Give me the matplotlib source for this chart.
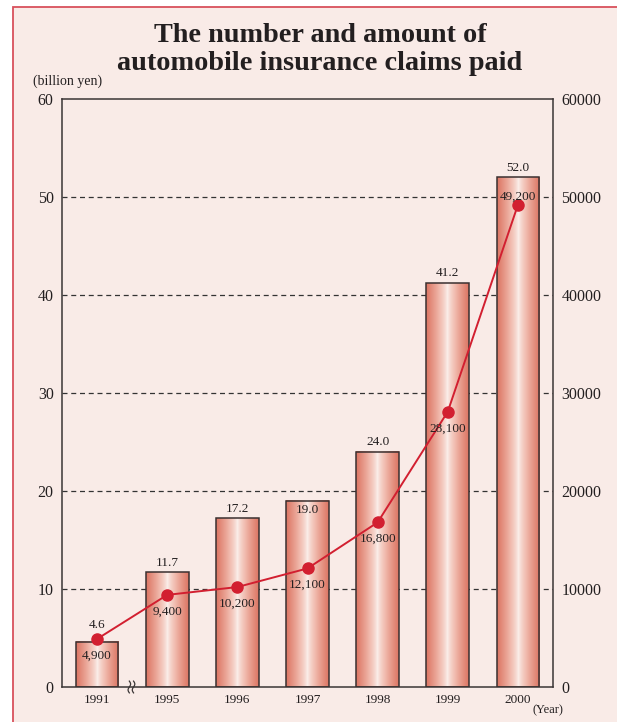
import matplotlib
matplotlib.use("Agg")
import matplotlib.pyplot as plt
import numpy as np
from matplotlib.colors import LinearSegmentedColormap
from matplotlib.patches import Rectangle

years = ["1991", "1995", "1996", "1997", "1998", "1999", "2000"]
amount = [4.6, 11.7, 17.2, 19.0, 24.0, 41.2, 52.0]          # billion yen
amount_labels = ["4.6", "11.7", "17.2", "19.0", "24.0", "41.2", "52.0"]
claims = [4900, 9400, 10200, 12100, 16800, 28100, 49200]    # number
claims_labels = ["4,900", "9,400", "10,200", "12,100", "16,800", "28,100", "49,200"]
left_ticks = [0, 10, 20, 30, 40, 50, 60]
right_ticks = [0, 10000, 20000, 30000, 40000, 50000, 60000]

BG = "#F9EBE7"
TXT = "#231F20"
RED = "#D21F30"
SERIF = ["Liberation Serif", "DejaVu Serif"]
plt.rcParams["font.family"] = SERIF

fig = plt.figure(figsize=(6.17, 7.22), dpi=100, facecolor="white")
# background panel with red border
fig.patches.append(Rectangle((13/617, -0.01), 1.0, 1 - 7/722 + 0.01, transform=fig.transFigure,
                             facecolor=BG, edgecolor="#D8505C", linewidth=1.3, zorder=-10))

ax = fig.add_axes([62/617, 1 - 687/722, (553-62)/617, (687-99)/722])
ax.set_facecolor("none")
x = np.arange(len(years))
ax.set_xlim(-0.5, len(years) - 0.5)
ax.set_ylim(0, 60)

cmap = LinearSegmentedColormap.from_list("bar", ["#FBF0EC", "#F0B8AB", "#DC7563"])
grad = (np.abs(np.linspace(-1, 1, 256)) ** 0.7).reshape(1, -1)
w = 0.61
for xi, v in zip(x, amount):
    ax.imshow(grad, cmap=cmap, aspect="auto", extent=(xi - w/2, xi + w/2, 0, v),
              zorder=2, interpolation="bilinear")
    ax.add_patch(Rectangle((xi - w/2, 0), w, v, facecolor="none", edgecolor="#3A3030",
                           linewidth=1.1, zorder=3))
for i, (xi, v, lab) in enumerate(zip(x, amount, amount_labels)):
    if i == 0:
        off = 1.75
    elif i == 3:
        off = -0.95
    else:
        off = 1.0
    ax.text(xi, v + off, lab, ha="center", va="center", fontsize=9.5, color=TXT, zorder=6)

for yv in [10, 20, 30, 40, 50]:
    ax.axhline(yv, color="#333333", linestyle=(0, (4, 3)), linewidth=0.9, zorder=1)

ax.set_xticks(x)
ax.set_xticklabels(years, fontsize=9.5, color=TXT)
ax.set_yticks(left_ticks)
ax.set_yticklabels([str(t) for t in left_ticks], fontsize=11.5, color=TXT)
ax.tick_params(length=0, pad=6)
ax.tick_params(axis="x", pad=5)
for s in ax.spines.values():
    s.set_color("#3A3535")
    s.set_linewidth(1.1)

ax2 = ax.twinx()
ax2.set_ylim(0, 60000)
ax2.set_yticks(right_ticks)
ax2.set_yticklabels([str(t) for t in right_ticks], fontsize=11.5, color=TXT)
ax2.tick_params(length=0, pad=6)
for s in ax2.spines.values():
    s.set_visible(False)
ax2.plot(x, claims, color=RED, linewidth=1.4, marker="o", markersize=8, zorder=5)
for i, (xi, v, lab) in enumerate(zip(x, claims, claims_labels)):
    if i == len(claims) - 1:
        ax2.text(xi, v + 820, lab, ha="center", va="center", fontsize=9.5, color=TXT, zorder=6)
    else:
        ax2.text(xi, v - 1100, lab, ha="center", va="top", fontsize=9.5, color=TXT, zorder=6)

# axis break mark
t = np.linspace(-1, 1, 40)
for x0 in (0.46, 0.52):
    ax.plot(x0 + 0.018*np.sin(t*np.pi), t*0.6, color="#3A3535", linewidth=0.9,
            clip_on=False, zorder=7)

fig.text(320/617, 1 - 35/722, "The number and amount of",
         ha="center", va="center", fontsize=20.3, fontweight="bold", color=TXT)
fig.text(320/617, 1 - 63/722, "automobile insurance claims paid",
         ha="center", va="center", fontsize=20.3, fontweight="bold", color=TXT)
fig.text(33/617, 1 - 81/722, "(billion yen)", ha="left", va="center", fontsize=10, color=TXT)
fig.text(563/617, 1 - 710/722, "(Year)", ha="right", va="center", fontsize=9, color=TXT)

fig.savefig("out.png", dpi=100)
